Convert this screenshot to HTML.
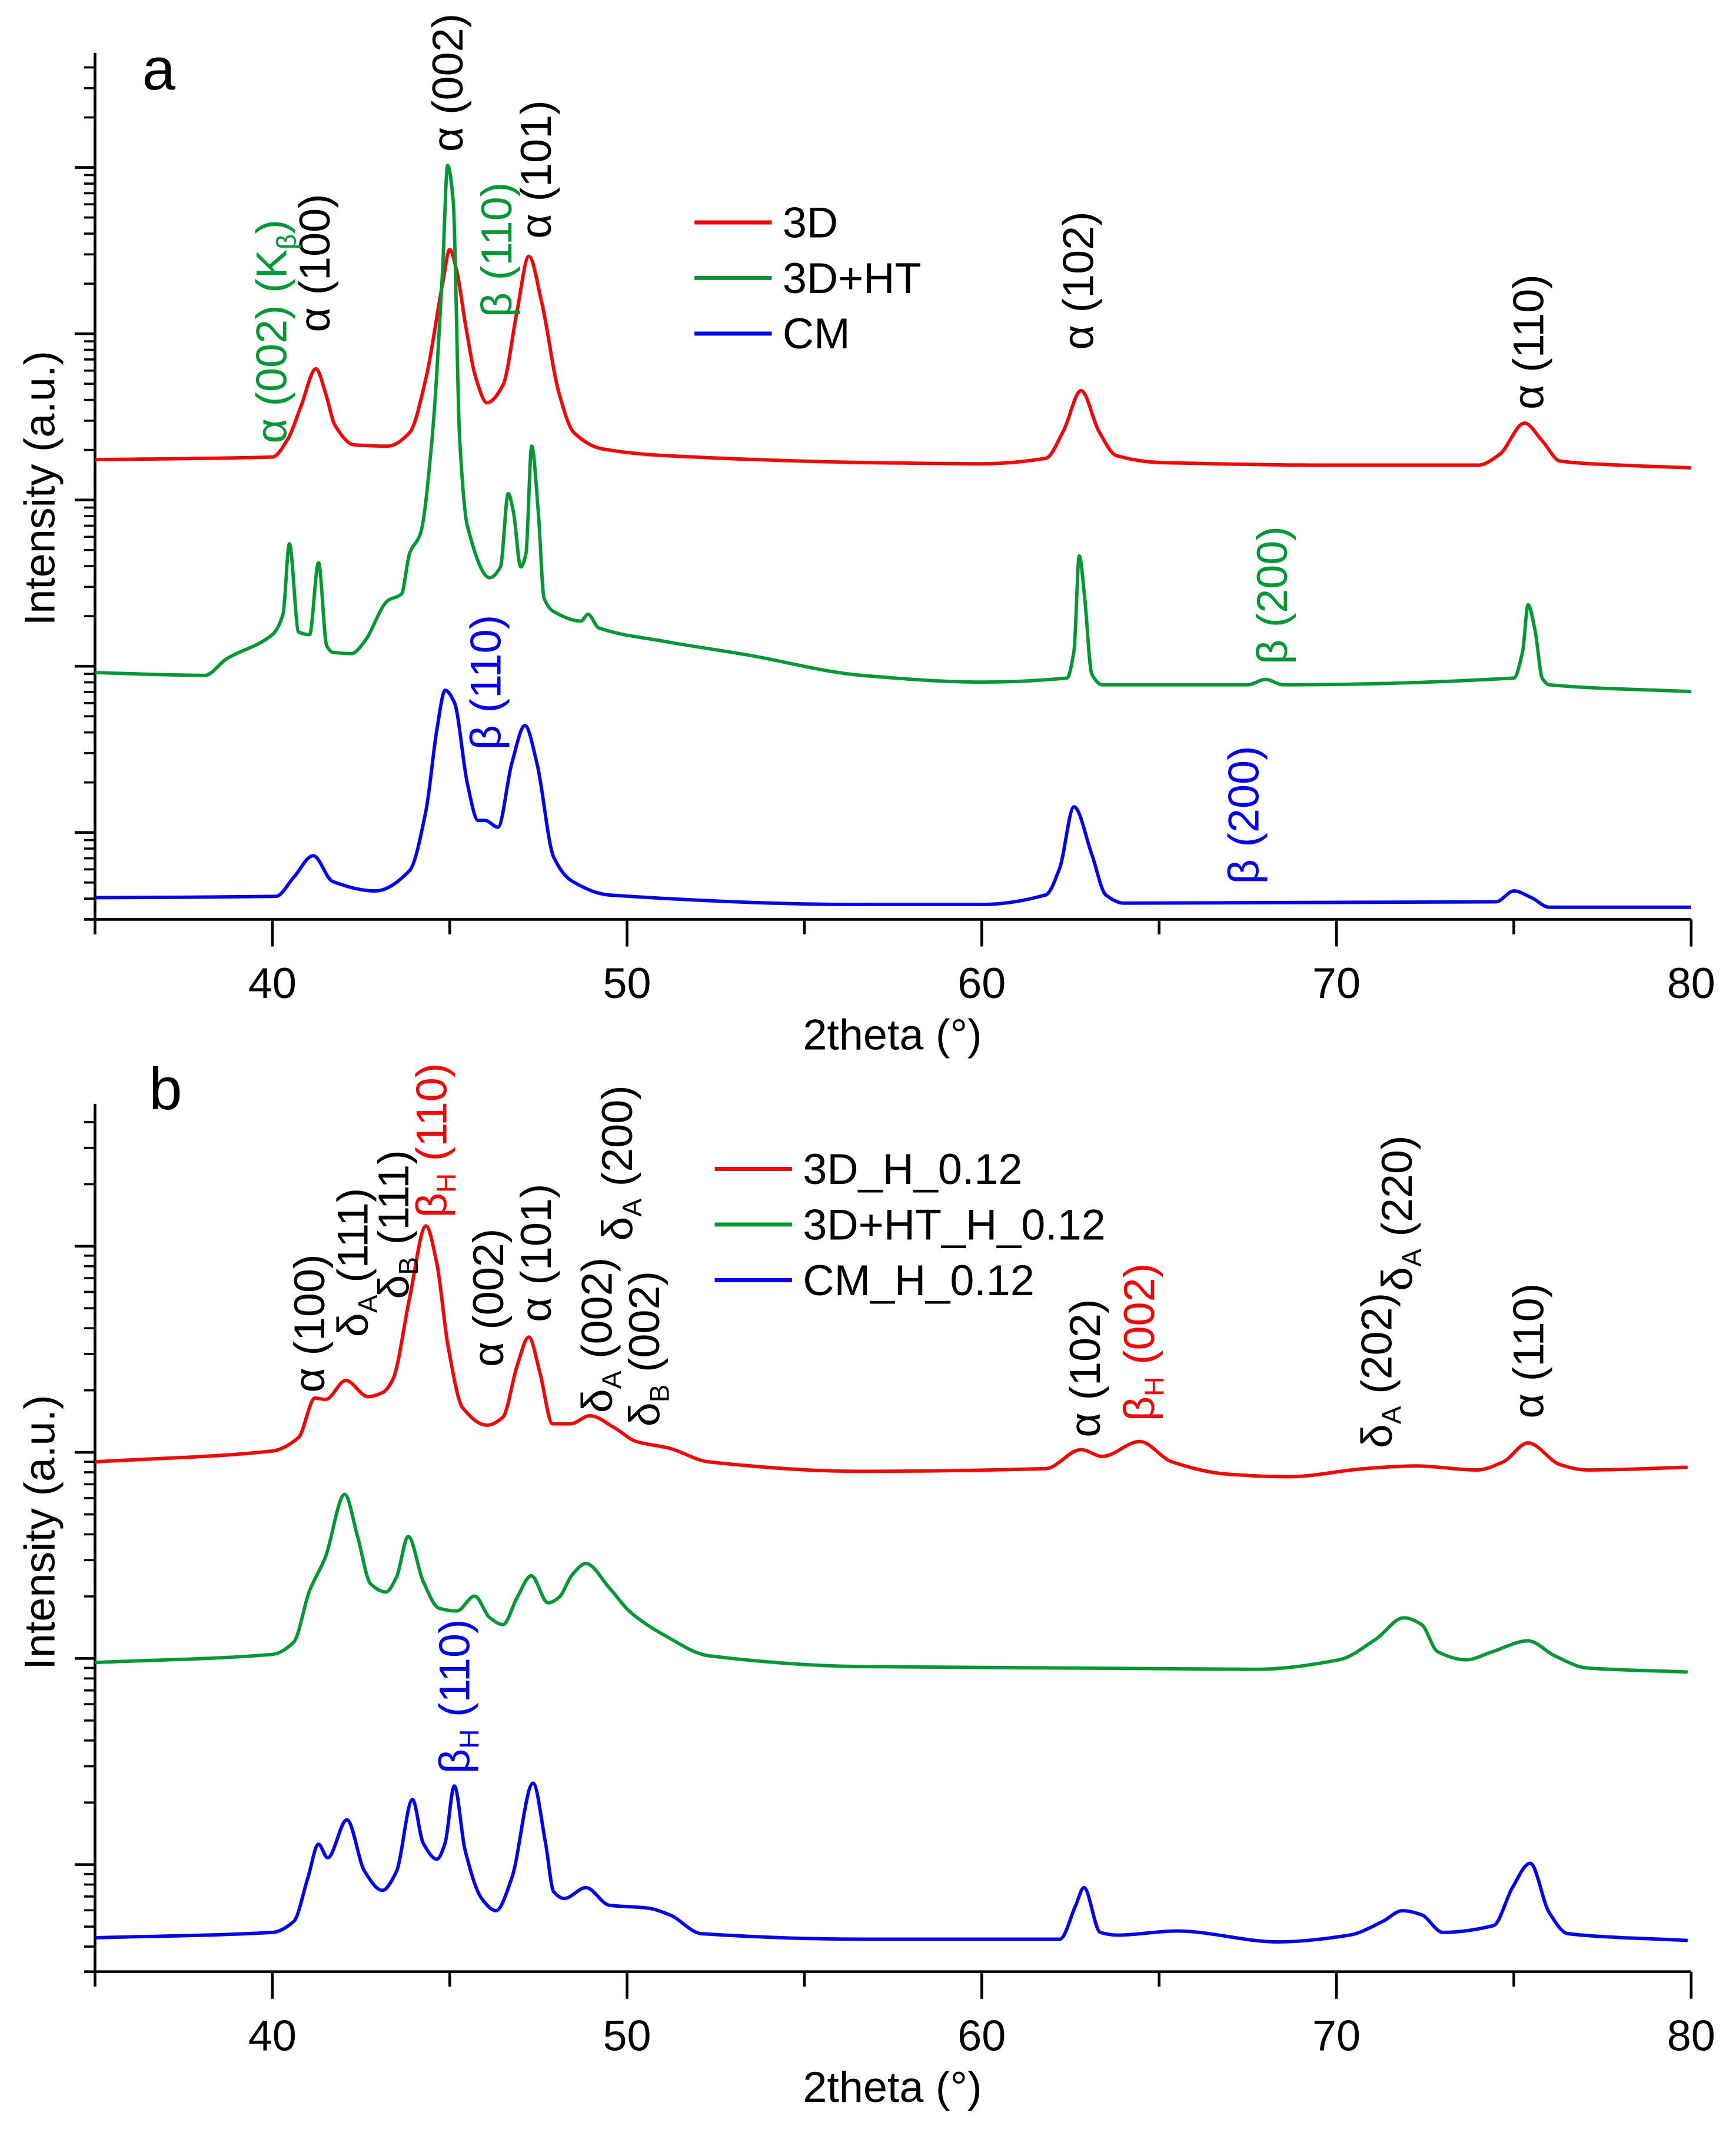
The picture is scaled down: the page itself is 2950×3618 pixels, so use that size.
<!DOCTYPE html>
<html><head><meta charset="utf-8">
<style>
html,body{margin:0;padding:0;background:#fff;}
svg{display:block;}
text{font-family:"Liberation Sans",Arial,sans-serif;}
</style></head>
<body>
<svg id="fig" width="2950" height="3618" viewBox="0 0 1280 1570" xmlns="http://www.w3.org/2000/svg">
  <rect x="0" y="0" width="1280" height="1570" fill="#fff"/>
  <g id="panelA"></g>
  <g id="panelB"></g>
</svg>
<script>
// ===== Panel a data (2theta in degrees, intensity in a.u. with offset) =====
const aRedTheta = [35,40,40.43,40.8,41.23,41.5,41.77,42.3,43.25,43.87,44.33,44.8,45.0,45.2,45.44,45.74,46.05,46.5,46.9,47.23,47.6,48.07,48.5,49.3,51.1,56.6,60,61.8,62.3,62.8,63.3,63.8,65,70,74,74.6,75.3,75.8,76.3,78,80];
const aRedInt = [339,341,354,378,406,388,364,350,349,359,399,469,494,478,439,399,381,394,449,489,454,389,359,347,342,337,336,340,360,390,360,342,337,335,335,343,366,353,338,335,333];
const aGreenTheta = [35,38.1,38.7,40,40.3,40.48,40.74,41.05,41.3,41.53,41.7,42.23,42.6,43.25,43.64,43.87,44.18,44.5,44.8,44.94,45.1,45.28,45.5,46.13,46.43,46.65,46.8,47.0,47.15,47.31,47.5,47.66,47.93,48.7,48.9,49.2,51.06,53.4,56.6,60,62.4,62.6,62.75,62.9,63.1,63.4,67.5,68,68.5,75.0,75.25,75.4,75.6,75.8,76.0,80];
const aGreenInt = [182,180,192,210,225,277,212,210,263,202,197,196,205,235,240,270,285,354,479,556,529,354,290,252,260,314,300,260,270,349,300,237,227,220,225,215,205,195,180,175,178,198,268,238,181,173,173,177,173,178,198,232,213,178,173,168];
const aBlueTheta = [35,40.1,40.6,41.15,41.7,42.9,43.87,44.33,44.64,44.87,45.13,45.5,45.8,46.0,46.36,46.75,47.12,47.46,47.93,48.46,49.5,56.6,60,61.8,62.2,62.6,63.1,63.5,64,74.5,75.0,75.5,76,80];
const aBlueInt = [16,17,31,47,28,21,36,80,140,169,160,100,73,73,68,115,143,115,46,28,18,11,11,18,38,83,48,18,12,13,21,16,9,9];

// ===== Panel b data =====
const bRedTheta = [35,40,40.74,41.2,41.5,42.07,42.7,43.1,43.4,43.87,44.33,44.64,44.95,45.36,46.05,46.5,46.9,47.23,47.54,47.9,48.4,48.95,49.65,50.26,51.2,52.3,56.6,61.8,62.8,63.4,64.45,65.36,66.9,68.65,70.8,72.25,73.97,74.7,75.4,76.3,77.06,79.9];
const bRedInt = [376,384,394,423,422,436,424,427,437,497,550,522,462,416,403,409,447,468,442,404,404,410,401,391,386,376,369,371,385,380,391,376,367,365,371,373,370,376,390,374,370,372];
const bGreenTheta = [35,40,40.6,41.05,41.5,42.04,42.4,42.77,43.2,43.5,43.83,44.25,44.7,45.2,45.7,46.13,46.5,46.9,47.3,47.77,48.08,48.46,48.84,49.5,50.1,51.06,52.3,56.6,67.7,70.07,71.1,71.9,72.4,72.85,73.65,74.4,75.4,76.15,77.06,79.9];
const bGreenInt = [228,234,243,281,306,352,321,286,280,291,321,288,268,266,277,261,256,276,292,272,276,293,301,283,265,248,233,225,223,230,245,261,256,236,230,236,244,233,224,221];
const bBlueTheta = [35,40,40.6,41.0,41.3,41.56,42.1,42.6,43.1,43.5,43.95,44.25,44.64,44.87,45.13,45.43,45.9,46.3,46.75,47.35,47.7,47.93,48.23,48.84,49.5,50.56,51.2,52.1,56.6,62.2,62.65,62.88,63.34,63.83,65.5,68.35,70.37,71.3,71.86,72.4,73.0,74.43,74.96,75.46,75.99,76.53,79.9];
const bBlueInt = [25,29,37,69,94,84,112,74,60,74,127,95,83,95,137,90,54,45,69,139,95,59,54,62,49,47,42,28,24,24,49,62,29,27,30,22,27,37,45,42,29,34,62,80,44,28,23];

const xTicks = [40,50,60,70,80];
const xMinorTicks = [35,45,55,65,75];
const legendA = ["3D","3D+HT","CM"];
const legendB = ["3D_H_0.12","3D+HT_H_0.12","CM_H_0.12"];

const NS = "http://www.w3.org/2000/svg";
const RED="#ff0000", GREEN="#009933", BLUE="#0000ff";
const X0=70, X1=1247, T0=35, T1=80;
function xs(t){ return X0 + (t-T0)*(X1-X0)/(T1-T0); }

function el(tag, attrs, parent){
  const e=document.createElementNS(NS,tag);
  for(const k in attrs) e.setAttribute(k, attrs[k]);
  parent.appendChild(e); return e;
}

// monotone cubic (Fritsch-Carlson) path through points
function smoothPath(px, py){
  const n=px.length;
  const d=[], m=new Array(n);
  for(let i=0;i<n-1;i++) d.push((py[i+1]-py[i])/(px[i+1]-px[i]));
  m[0]=d[0]; m[n-1]=d[n-2];
  for(let i=1;i<n-1;i++){
    if(d[i-1]*d[i]<=0) m[i]=0;
    else m[i]=2/(1/d[i-1]+1/d[i]);
  }
  let s='M'+px[0].toFixed(1)+','+py[0].toFixed(1);
  for(let i=0;i<n-1;i++){
    const h=px[i+1]-px[i];
    s+=' C'+(px[i]+h/3).toFixed(1)+','+(py[i]+m[i]*h/3).toFixed(1)+' '+
       (px[i+1]-h/3).toFixed(1)+','+(py[i+1]-m[i+1]*h/3).toFixed(1)+' '+
       px[i+1].toFixed(1)+','+py[i+1].toFixed(1);
  }
  return s;
}

function drawPanel(g, cfg){
  const ys = v => cfg.bottom - v;
  const ax = el('g',{},g);
  
  
  const yl = el('line',{x1:X0,y1:cfg.top,x2:X0,y2:cfg.bottom,stroke:'#000','stroke-width':2},ax);
  
  
  const xl = el('line',{x1:X0-8,y1:cfg.bottom,x2:X1,y2:cfg.bottom,stroke:'#000','stroke-width':2},ax);
  
  
  xTicks.forEach(t=>{
    const tk = el('line',{x1:xs(t),y1:cfg.bottom,x2:xs(t),y2:cfg.bottom+20,stroke:'#000','stroke-width':2},ax);
    
    
    const lb = el('text',{x:xs(t),y:cfg.bottom+58,'font-size':32,'text-anchor':'middle'},ax);
    lb.textContent = String(t);
    
    
  });
  xMinorTicks.forEach(t=>{
    const tk = el('line',{x1:xs(t),y1:cfg.bottom,x2:xs(t),y2:cfg.bottom+11,stroke:'#000','stroke-width':2},ax);
    
    
  });
  const dec = cfg.decade;
  for(let m=cfg.firstMajor-dec; m<cfg.bottom+dec; m+=dec){
    if(m>=cfg.top-1 && m<=cfg.bottom+1){
      const tk = el('line',{x1:X0-15,y1:m,x2:X0,y2:m,stroke:'#000','stroke-width':2},ax);
      
      
    }
    for(let k=2;k<=9;k++){
      const yy = m + dec - dec*Math.log10(k);
      if(yy>=cfg.top-1 && yy<=cfg.bottom-2){
        const tk = el('line',{x1:X0-8,y1:yy,x2:X0,y2:yy,stroke:'#000','stroke-width':1.6},ax);
        
        
      }
    }
  }
  const xt = el('text',{x:658,y:cfg.bottom+96,'font-size':32,'text-anchor':'middle'},ax);
  xt.textContent='2theta (°)';
  
  
  const yt = el('text',{transform:`translate(40,${cfg.yTitleY}) rotate(-90)`,'font-size':32,'text-anchor':'middle'},ax);
  yt.textContent='Intensity (a.u.)';
  
  
  const pl = el('text',{x:cfg.letterX,y:cfg.letterY,'font-size':44,'text-anchor':'middle'},ax);
  pl.textContent=cfg.letter;
  
  
  cfg.series.forEach(s=>{
    const px = s.theta.map(xs);
    const py = s.vals.map(ys);
    const p = el('path',{d:smoothPath(px,py),fill:'none',stroke:s.color,'stroke-width':2.5,'stroke-linejoin':'round'},g);
    
    
  });
  const lg = el('g',{},g);
  
  
  cfg.legend.forEach((name,i)=>{
    const y = cfg.legY + i*cfg.legDy;
    const e = el('g',{},lg);
    
    
    el('line',{x1:cfg.legX,y1:y,x2:cfg.legX+57,y2:y,stroke:cfg.series[i].color,'stroke-width':3},e);
    const t = el('text',{x:cfg.legX+65,y:y+11,'font-size':32},e);
    t.textContent=name;
  });
  cfg.ann.forEach(a=>{
    const t = el('text',{transform:`translate(${a[0]+11},${a[1]}) rotate(-90)`,'font-size':32,fill:a[2]},g);
    
    
    const t1 = el('tspan',{},t); t1.textContent=a[3];
    if(a[4]){
      const t2 = el('tspan',{'font-size':20,dy:7},t); t2.textContent=a[4];
      const t3 = el('tspan',{dy:-7},t); t3.textContent=a[5];
    }
  });
}

drawPanel(document.getElementById('panelA'),{
  id:'panel-a', letter:'a', letterX:117, letterY:66, top:39, bottom:678, decade:122.6, firstMajor:123.5,
  yTitleY:360, legX:512, legY:164, legDy:41,
  legend:legendA,
  series:[
    {name:'series-3d',theta:aRedTheta,vals:aRedInt,color:RED},
    {name:'series-3d-ht',theta:aGreenTheta,vals:aGreenInt,color:GREEN},
    {name:'series-cm',theta:aBlueTheta,vals:aBlueInt,color:BLUE}],
  ann:[
    [330,112,'#000','α (002)'],
    [395,176,'#000','α (101)'],
    [366,234,GREEN,'β (110)'],
    [232,245,'#000','α (100)'],
    [200,327,GREEN,'α (002) (K','β',')'],
    [795,258,'#000','α (102)'],
    [1127,302,'#000','α (110)'],
    [938,490,GREEN,'β (200)'],
    [358,553,BLUE,'β (110)'],
    [917,652,BLUE,'β (200)']
  ]
});
drawPanel(document.getElementById('panelB'),{
  id:'panel-b', letter:'b', letterX:122, letterY:818, top:814, bottom:1454, decade:152, firstMajor:919,
  yTitleY:1130, legX:527, legY:862, legDy:41,
  legend:legendB,
  series:[
    {name:'series-3d-h',theta:bRedTheta,vals:bRedInt,color:RED},
    {name:'series-3d-ht-h',theta:bGreenTheta,vals:bGreenInt,color:GREEN},
    {name:'series-cm-h',theta:bBlueTheta,vals:bBlueInt,color:BLUE}],
  ann:[
    [228,1027,'#000','α (100)'],
    [260,986,'#000','δ','A',' (111)'],
    [290,958,'#000','δ','B',' (111)'],
    [318,898,RED,'β','H',' (110)'],
    [360,1008,'#000','α (002)'],
    [395,975,'#000','α (101)'],
    [440,1042,'#000','δ','A',' (002)'],
    [455,915,'#000','δ','A',' (200)'],
    [475,1052,'#000','δ','B',' (002)'],
    [335,1308,BLUE,'β','H',' (110)'],
    [800,1060,'#000','α (102)'],
    [840,1048,RED,'β','H',' (002)'],
    [1015,1068,'#000','δ','A',' (202)'],
    [1030,952,'#000','δ','A',' (220)'],
    [1127,1046,'#000','α (110)']
  ]
});
</script>
</body></html>
